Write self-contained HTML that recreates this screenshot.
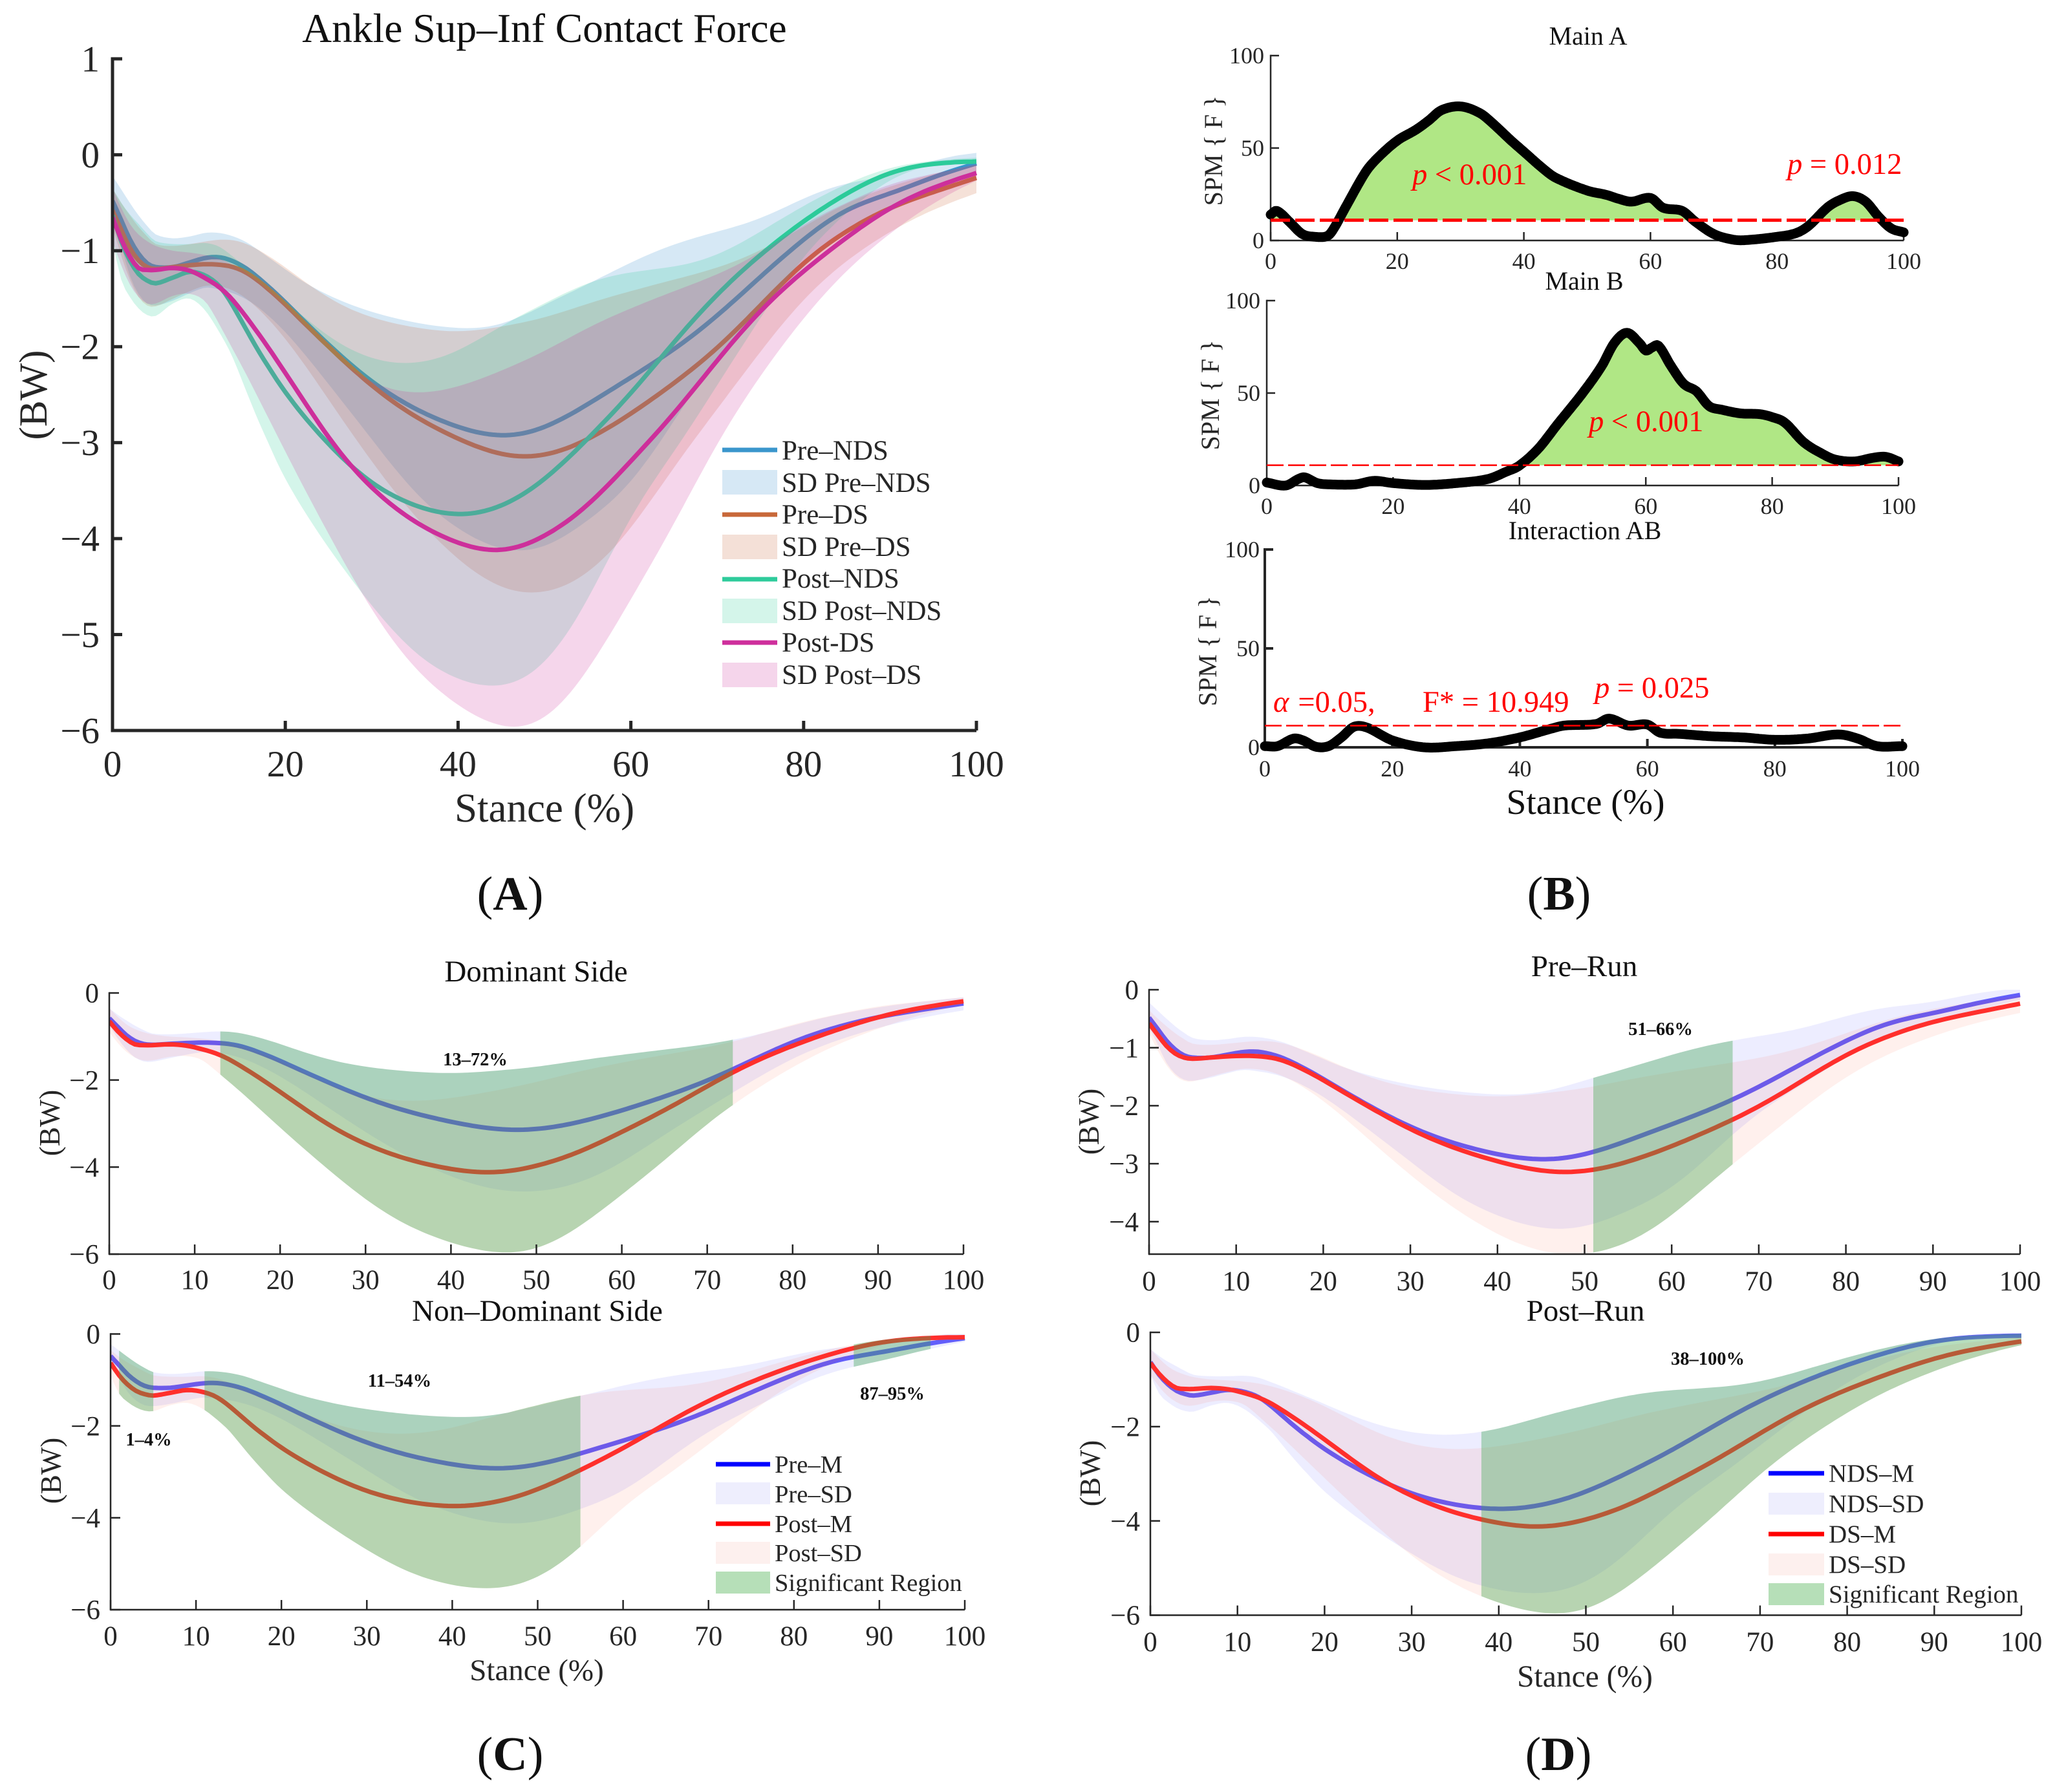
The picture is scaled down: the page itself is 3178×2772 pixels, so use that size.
<!DOCTYPE html>
<html lang="en">
<head>
<meta charset="utf-8">
<title>Ankle Sup–Inf Contact Force</title>
<style>
html,body{margin:0;padding:0;background:#fff;}
svg{display:block;}
text{font-family:"Liberation Serif","Times New Roman",serif;}
</style>
</head>
<body>
<svg id="fig" xmlns="http://www.w3.org/2000/svg" width="3178" height="2772" viewBox="0 0 3178 2772">
<rect x="0" y="0" width="3178" height="2772" fill="#fff"/>
<g id="plots"></g>

<!-- Panel A text -->
<text x="842" y="65" font-size="63.5" text-anchor="middle" fill="#111">Ankle Sup–Inf Contact Force</text>
<text x="842" y="1271" font-size="63" text-anchor="middle" fill="#262626">Stance (%)</text>
<text transform="translate(72,611) rotate(-90)" font-size="61" text-anchor="middle" fill="#262626">(BW)</text>
<text x="789" y="1407" font-size="74" text-anchor="middle" fill="#111">(<tspan font-weight="bold">A</tspan>)</text>

<g font-size="43" fill="#262626">
<line x1="1117" x2="1202" y1="696" y2="696" stroke="#3a96cc" stroke-width="7"/>
<text x="1209" y="711">Pre–NDS</text>
<rect x="1117" y="727" width="85" height="38" fill="#d6e8f5"/>
<text x="1209" y="761">SD Pre–NDS</text>
<line x1="1117" x2="1202" y1="796" y2="796" stroke="#c8683a" stroke-width="7"/>
<text x="1209" y="810">Pre–DS</text>
<rect x="1117" y="827" width="85" height="38" fill="#f4e0d7"/>
<text x="1209" y="860">SD Pre–DS</text>
<line x1="1117" x2="1202" y1="896" y2="896" stroke="#2ecb9b" stroke-width="7"/>
<text x="1209" y="909">Post–NDS</text>
<rect x="1117" y="926" width="85" height="38" fill="#d4f5ea"/>
<text x="1209" y="959">SD Post–NDS</text>
<line x1="1117" x2="1202" y1="994" y2="994" stroke="#ce2f9c" stroke-width="7"/>
<text x="1209" y="1008">Post-DS</text>
<rect x="1117" y="1025" width="85" height="38" fill="#f5d5eb"/>
<text x="1209" y="1058">SD Post–DS</text>
</g>

<!-- Panel B text -->
<text x="2456" y="69" font-size="40" text-anchor="middle" fill="#111">Main A</text>
<text x="2450" y="448" font-size="40" text-anchor="middle" fill="#111">Main B</text>
<text x="2451" y="834" font-size="40" text-anchor="middle" fill="#111">Interaction AB</text>
<text transform="translate(1890,233) rotate(-90)" font-size="40" text-anchor="middle" fill="#262626">SPM { F }</text>
<text transform="translate(1885,611) rotate(-90)" font-size="40" text-anchor="middle" fill="#262626">SPM { F }</text>
<text transform="translate(1881,1007) rotate(-90)" font-size="40" text-anchor="middle" fill="#262626">SPM { F }</text>
<text x="2452" y="1259" font-size="55.5" text-anchor="middle" fill="#111">Stance (%)</text>
<text x="2411" y="1407" font-size="74" text-anchor="middle" fill="#111">(<tspan font-weight="bold">B</tspan>)</text>
<g font-size="46.5" fill="#ff0000">
<text x="2184" y="285"><tspan font-style="italic">p</tspan> &lt; 0.001</text>
<text x="2764" y="269"><tspan font-style="italic">p</tspan> = 0.012</text>
<text x="2457" y="667"><tspan font-style="italic">p</tspan> &lt; 0.001</text>
<text x="1969" y="1101"><tspan font-style="italic">α</tspan><tspan dx="14">=0.05,</tspan></text>
<text x="2200" y="1101">F* = 10.949</text>
<text x="2466" y="1079"><tspan font-style="italic">p</tspan> = 0.025</text>
</g>

<!-- Panel C text -->
<text x="829" y="1518" font-size="47" text-anchor="middle" fill="#111">Dominant Side</text>
<text x="831" y="2043" font-size="47" text-anchor="middle" fill="#111">Non–Dominant Side</text>
<text transform="translate(92,1737) rotate(-90)" font-size="45" text-anchor="middle" fill="#262626">(BW)</text>
<text transform="translate(94,2275) rotate(-90)" font-size="45" text-anchor="middle" fill="#262626">(BW)</text>
<text x="830" y="2599" font-size="47" text-anchor="middle" fill="#262626">Stance (%)</text>
<text x="789" y="2738" font-size="74" text-anchor="middle" fill="#111">(<tspan font-weight="bold">C</tspan>)</text>
<g font-size="28.5" font-weight="bold" text-anchor="middle" fill="#111">
<text x="735" y="1648">13–72%</text>
<text x="230" y="2236">1–4%</text>
<text x="618" y="2145">11–54%</text>
<text x="1380" y="2165">87–95%</text>
</g>
<g font-size="38.5" fill="#262626">
<line x1="1107" x2="1191" y1="2265" y2="2265" stroke="#0000ff" stroke-width="7"/>
<text x="1198" y="2278">Pre–M</text>
<rect x="1107" y="2293" width="84" height="34" fill="#eeeefd"/>
<text x="1198" y="2324">Pre–SD</text>
<line x1="1107" x2="1191" y1="2357" y2="2357" stroke="#ff0000" stroke-width="7"/>
<text x="1198" y="2370">Post–M</text>
<rect x="1107" y="2385" width="84" height="34" fill="#fdf0ee"/>
<text x="1198" y="2415">Post–SD</text>
<rect x="1107" y="2431" width="84" height="34" fill="#b6dfb8"/>
<text x="1198" y="2461">Significant Region</text>
</g>

<!-- Panel D text -->
<text x="2450" y="1510" font-size="47" text-anchor="middle" fill="#111">Pre–Run</text>
<text x="2452" y="2043" font-size="47" text-anchor="middle" fill="#111">Post–Run</text>
<text transform="translate(1699,1735) rotate(-90)" font-size="45" text-anchor="middle" fill="#262626">(BW)</text>
<text transform="translate(1701,2279) rotate(-90)" font-size="45" text-anchor="middle" fill="#262626">(BW)</text>
<text x="2451" y="2609" font-size="47.5" text-anchor="middle" fill="#262626">Stance (%)</text>
<text x="2410" y="2738" font-size="74" text-anchor="middle" fill="#111">(<tspan font-weight="bold">D</tspan>)</text>
<g font-size="28.5" font-weight="bold" text-anchor="middle" fill="#111">
<text x="2568" y="1601">51–66%</text>
<text x="2641" y="2111">38–100%</text>
</g>
<g font-size="39" fill="#262626">
<line x1="2735" x2="2821" y1="2279" y2="2279" stroke="#0000ff" stroke-width="7"/>
<text x="2828" y="2292">NDS–M</text>
<rect x="2735" y="2309" width="86" height="34" fill="#eeeefd"/>
<text x="2828" y="2339">NDS–SD</text>
<line x1="2735" x2="2821" y1="2373" y2="2373" stroke="#ff0000" stroke-width="7"/>
<text x="2828" y="2386">DS–M</text>
<rect x="2735" y="2403" width="86" height="34" fill="#fdf0ee"/>
<text x="2828" y="2433">DS–SD</text>
<rect x="2735" y="2449" width="86" height="34" fill="#b6dfb8"/>
<text x="2828" y="2479">Significant Region</text>
</g>
</svg>

<script>
// ---------- Data ----------
const stance = [0,1,2,3,4,5,7,9,11,13,15,17,20,25,30,35,40,45,50,55,60,65,70,75,80,85,90,95,100];

const preNDS  = [-.48,-.68,-.88,-1.03,-1.13,-1.17,-1.17,-1.12,-1.07,-1.07,-1.15,-1.27,-1.54,-1.98,-2.37,-2.65,-2.84,-2.94,-2.85,-2.6,-2.32,-2.03,-1.68,-1.27,-.88,-.56,-.41,-.23,-.09];
const preDS   = [-.58,-.78,-.97,-1.1,-1.17,-1.19,-1.17,-1.15,-1.14,-1.15,-1.19,-1.3,-1.56,-2.0,-2.41,-2.73,-2.96,-3.13,-3.14,-2.97,-2.7,-2.38,-2.02,-1.57,-1.12,-.79,-.55,-.39,-.24];
const postNDS = [-.63,-.9,-1.1,-1.24,-1.31,-1.34,-1.28,-1.22,-1.27,-1.42,-1.74,-2.08,-2.49,-3.02,-3.43,-3.66,-3.76,-3.67,-3.39,-2.96,-2.49,-1.95,-1.45,-1.04,-.69,-.4,-.18,-.09,-.07];
const postDS  = [-.65,-.88,-1.06,-1.18,-1.2,-1.2,-1.18,-1.21,-1.3,-1.42,-1.62,-1.88,-2.26,-2.96,-3.48,-3.83,-4.05,-4.14,-3.98,-3.66,-3.19,-2.7,-2.14,-1.62,-1.21,-.86,-.55,-.34,-.19];

const preNDSUpper  = [-.22,-.36,-.5,-.63,-.74,-.83,-.87,-.85,-.81,-.82,-.88,-.98,-1.21,-1.47,-1.64,-1.75,-1.81,-1.78,-1.56,-1.35,-1.12,-.93,-.8,-.67,-.45,-.29,-.22,-.05,.02];
const preNDSLower  = [-.65,-.95,-1.26,-1.45,-1.55,-1.57,-1.52,-1.44,-1.38,-1.42,-1.47,-1.58,-1.83,-2.39,-2.96,-3.53,-3.9,-4.12,-4.1,-3.81,-3.43,-2.77,-2.11,-1.64,-1.16,-.79,-.6,-.36,-.17];
const preDSUpper   = [-.35,-.5,-.63,-.75,-.85,-.93,-.95,-.93,-.9,-.88,-.9,-.98,-1.17,-1.5,-1.7,-1.8,-1.85,-1.79,-1.7,-1.55,-1.42,-1.3,-1.18,-1.0,-.75,-.5,-.33,-.2,-.1];
const preDSLower   = [-.75,-1.05,-1.3,-1.48,-1.57,-1.58,-1.5,-1.42,-1.36,-1.38,-1.45,-1.6,-1.9,-2.55,-3.2,-3.77,-4.22,-4.52,-4.57,-4.37,-3.9,-3.25,-2.65,-2.05,-1.5,-1.1,-.8,-.57,-.4];
const postNDSUpper = [-.35,-.5,-.62,-.72,-.82,-.9,-.93,-.93,-.92,-.98,-1.15,-1.28,-1.52,-1.9,-2.13,-2.18,-2.05,-1.78,-1.55,-1.33,-1.22,-1.17,-1.05,-.8,-.53,-.3,-.13,-.06,-.03];
const postNDSLower = [-.9,-1.3,-1.48,-1.6,-1.67,-1.68,-1.55,-1.5,-1.65,-1.95,-2.3,-2.85,-3.4,-4.1,-4.7,-5.2,-5.47,-5.55,-5.32,-4.65,-3.75,-3.1,-2.4,-1.7,-1.05,-.6,-.25,-.1,-.07];
const postDSUpper  = [-.35,-.55,-.72,-.83,-.9,-.95,-1,-1.02,-1.05,-1.1,-1.2,-1.32,-1.55,-2.05,-2.38,-2.49,-2.42,-2.25,-2.05,-1.8,-1.6,-1.42,-1.25,-1.02,-.72,-.5,-.3,-.2,-.1];
const postDSLower  = [-.9,-1.15,-1.35,-1.48,-1.55,-1.55,-1.47,-1.45,-1.55,-1.88,-2.2,-2.55,-3.1,-3.95,-4.75,-5.36,-5.74,-5.97,-5.9,-5.38,-4.63,-3.85,-3.0,-2.3,-1.7,-1.2,-.82,-.5,-.27];

const mainAX = [0,1,3,5,7,9,10,12,15,17,20,23,25,27,30,33,35,38,40,43,45,50,53,55,57,60,62,65,67,70,73,75,80,83,85,88,90,92,94,96,98,100];
const mainAF = [14,16,10,3.5,2,2.5,6.6,19,37,45,54,60,65,70.5,72.5,69,63.6,54,48,39,34,27,24.7,22.5,21,23,17.7,16,10.4,3.5,.5,.2,2,4,8,18,22,24,21,13,6.6,4.4];
const mainBX = [0,3,5,6,8,10,14,17,20,25,30,35,38,40,43,46,50,53,55,57,59,60,61,62,64,66,68,70,72,75,78,80,82,85,88,90,93,96,98,100];
const mainBF = [1.6,0,3.5,4.4,1.3,.6,.6,2.5,1.3,.3,1.3,3.5,7.6,10.8,20,33,50,64.5,77,82.6,77,73,74.7,75.6,64.6,55,51,43,41,39,38.6,37,34,23.4,17,14,13,15,15.5,13];
const interactionX = [0,2,4.5,6,8,10,12,14,16,20,25,30,35,40,45,47,52,54,57,60,62,65,70,75,80,85,90,93,96,100];
const interactionF = [.6,.6,4.4,3.5,.3,.6,5,10.4,10,3.5,0,.6,2,5,9.5,11,11.8,14.5,11,11.5,7.4,6.8,5.6,5,3.8,4.4,6.5,4.4,.6,.6];
const thresholdF = 10.949;

const xTicksA = [0,20,40,60,80,100];
const yTicksA = [1,0,-1,-2,-3,-4,-5,-6];
const xTicksSpm = [0,20,40,60,80,100];
const yTicksSpm = [0,50,100];
const xTicksTen = [0,10,20,30,40,50,60,70,80,90,100];
const yTicksEven = [0,-2,-4,-6];
const yTicksUnit = [0,-1,-2,-3,-4];

const dominantRegions = [[13,73]];
const nonDominantRegions = [[1,5],[11,55],[87,96]];
const preRunRegions = [[51,67]];
const postRunRegions = [[38,100]];

// ---------- Helpers ----------
const NS = 'http://www.w3.org/2000/svg';
const root = document.getElementById('plots');

function make(tag, name, parent, props) {
  const el = document.createElementNS(NS, tag);
  
  
  for (const k in props) el.setAttribute(k, props[k]);
  parent.appendChild(el);
  return el;
}

function spline(xs, ys, x) {
  const n = xs.length;
  if (x <= xs[0]) return ys[0];
  if (x >= xs[n - 1]) return ys[n - 1];
  let i = 0;
  while (xs[i + 1] < x) i++;
  const h = xs[i + 1] - xs[i], t = (x - xs[i]) / h;
  const a = i > 0 ? i - 1 : i, b = i + 2 < n ? i + 2 : i + 1;
  const m0 = (ys[i + 1] - ys[a]) / (xs[i + 1] - xs[a]);
  const m1 = (ys[b] - ys[i]) / (xs[b] - xs[i]);
  const t2 = t * t, t3 = t2 * t;
  return (2 * t3 - 3 * t2 + 1) * ys[i] + (t3 - 2 * t2 + t) * h * m0 + (-2 * t3 + 3 * t2) * ys[i + 1] + (t3 - t2) * h * m1;
}

function sampleGrid(a, b, step) {
  const out = [];
  for (let x = a; x < b; x += step) out.push(x);
  out.push(b);
  return out;
}

function axes(p) {
  return {
    sx: v => p.left + v / 100 * (p.right - p.left),
    sy: v => p.top + (v - p.vTop) / (p.vBot - p.vTop) * (p.bottom - p.top)
  };
}

function linePath(xs, fn, ax) {
  return xs.map((x, i) => (i ? 'L' : 'M') + ax.sx(x).toFixed(1) + ' ' + ax.sy(fn(x)).toFixed(1)).join('');
}

function bandPath(xs, upper, lower, ax) {
  const top = xs.map(x => ax.sx(x).toFixed(1) + ' ' + ax.sy(upper(x)).toFixed(1));
  const bot = xs.slice().reverse().map(x => ax.sx(x).toFixed(1) + ' ' + ax.sy(lower(x)).toFixed(1));
  return 'M' + top.join('L') + 'L' + bot.join('L') + 'Z';
}

// Spline through the read values, lightly eased past the initial transient.
function curve(arr) {
  return x => {
    const w = Math.min(3, Math.max(0, (x - 9) / 3)) * Math.min(1, (100 - x) / 3);
    if (w <= 0) return spline(stance, arr, x);
    let s = 0;
    for (let k = -3; k <= 3; k++) s += spline(stance, arr, x + k * w / 3);
    return s / 7;
  };
}

function drawFrame(p, ax, g) {
  const w = p.axisWidth;
  make('line', p.id + '-y-axis', g, {x1: p.left, x2: p.left, y1: p.top - w / 2, y2: p.bottom + w / 2, stroke: '#262626', 'stroke-width': p.yWidth || w});
  make('line', p.id + '-x-axis', g, {x1: p.left, x2: p.right, y1: p.bottom, y2: p.bottom, stroke: '#262626', 'stroke-width': w});
  p.xTicks.forEach(v => {
    make('line', p.id + '-x-tick', g, {x1: ax.sx(v), x2: ax.sx(v), y1: p.bottom, y2: p.bottom - p.tickLen, stroke: '#262626', 'stroke-width': w});
    const t = make('text', p.id + '-x-tick-label', g, {x: ax.sx(v), y: p.xLabelY, 'font-size': p.tickFont, 'text-anchor': 'middle', fill: '#262626'});
    t.textContent = String(v);
  });
  p.yTicks.forEach(v => {
    make('line', p.id + '-y-tick', g, {x1: p.left, x2: p.left + p.tickLen, y1: ax.sy(v), y2: ax.sy(v), stroke: '#262626', 'stroke-width': w});
    const t = make('text', p.id + '-y-tick-label', g, {x: p.left - p.yLabelGap, y: ax.sy(v) + p.tickFont * 0.34, 'font-size': p.tickFont, 'text-anchor': 'end', fill: '#262626'});
    t.textContent = String(v).replace('-', '\u2212');
  });
}

function clipFor(p, g) {
  const c = make('clipPath', p.id + '-clip', g, {id: p.id + '-clip'});
  make('rect', p.id + '-clip-rect', c, {x: p.left, y: p.top, width: p.right - p.left + 1, height: p.bottom - p.top});
}

// ---------- Panel A ----------
(function () {
  const p = {id: 'panel-a', left: 174, right: 1510, top: 91, bottom: 1130, vTop: 1, vBot: -6, axisWidth: 5, tickLen: 15, tickFont: 57, xLabelY: 1201, yLabelGap: 20, xTicks: xTicksA, yTicks: yTicksA};
  const ax = axes(p);
  const g = make('g', 'panel-a-plot', root, {});
  clipFor(p, g);
  const plot = make('g', 'panel-a-series', g, {'clip-path': 'url(#panel-a-clip)'});
  const grid = sampleGrid(0, 100, 0.5);
  const series = [
    ['pre-nds', preNDS, preNDSUpper, preNDSLower, 'rgb(58,150,204)', 'rgb(50,140,205)'],
    ['pre-ds', preDS, preDSUpper, preDSLower, 'rgb(200,104,58)', 'rgb(205,105,60)'],
    ['post-nds', postNDS, postNDSUpper, postNDSLower, 'rgb(46,203,155)', 'rgb(40,205,150)'],
    ['post-ds', postDS, postDSUpper, postDSLower, 'rgb(206,47,156)', 'rgb(205,50,155)']
  ];
  series.forEach(s => {
    make('path', 'line-' + s[0], plot, {d: linePath(grid, curve(s[1]), ax), fill: 'none', stroke: s[4], 'stroke-width': 7, 'stroke-linejoin': 'round'});
    make('path', 'band-' + s[0], plot, {d: bandPath(grid, curve(s[2]), curve(s[3]), ax), fill: s[5], 'fill-opacity': 0.2});
  });
  drawFrame(p, ax, g);
})();

// ---------- Panel B ----------
function spmPanel(p, xs, fs, fillRegions, dashW, dash) {
  const ax = axes(p);
  const g = make('g', p.id + '-plot', root, {});
  const fn = x => spline(xs, fs, x);
  const grid = sampleGrid(0, 100, 0.25);
  if (fillRegions) {
    let run = [];
    const flush = () => {
      if (run.length > 1) {
        const d = bandPath(run, fn, () => thresholdF, ax);
        make('path', p.id + '-significant-fill', g, {d: d, fill: '#b0e785'});
      }
      run = [];
    };
    grid.forEach(x => { if (fn(x) >= thresholdF) run.push(x); else flush(); });
    flush();
  }
  drawFrame(p, ax, g);
  make('path', p.id + '-spm-curve', g, {d: linePath(grid, fn, ax), fill: 'none', stroke: '#000', 'stroke-width': 15, 'stroke-linejoin': 'round', 'stroke-linecap': 'round'});
  make('line', p.id + '-threshold', g, {x1: ax.sx(0), x2: ax.sx(100), y1: ax.sy(thresholdF), y2: ax.sy(thresholdF), stroke: '#ff0000', 'stroke-width': dashW, 'stroke-dasharray': dash});
}
spmPanel({id: 'main-a', left: 1965, right: 2944, top: 86, bottom: 372, vTop: 100, vBot: 0, axisWidth: 2.5, tickLen: 13, tickFont: 36, xLabelY: 416, yLabelGap: 10, xTicks: xTicksSpm, yTicks: yTicksSpm}, mainAX, mainAF, true, 5, '30 8');
spmPanel({id: 'main-b', left: 1959, right: 2936, top: 465, bottom: 751, vTop: 100, vBot: 0, axisWidth: 2.5, tickLen: 13, tickFont: 36, xLabelY: 795, yLabelGap: 10, xTicks: xTicksSpm, yTicks: yTicksSpm}, mainBX, mainBF, true, 2.5, '26 7');
spmPanel({id: 'interaction', left: 1956, right: 2942, top: 850, bottom: 1156, vTop: 100, vBot: 0, axisWidth: 4, tickLen: 13, tickFont: 36, xLabelY: 1201, yLabelGap: 8, xTicks: xTicksSpm, yTicks: yTicksSpm}, interactionX, interactionF, false, 2.5, '26 7');

// ---------- Panels C and D ----------
function comparePanel(p, m1, u1, l1, m2, u2, l2, regions) {
  const ax = axes(p);
  const g = make('g', p.id + '-plot', root, {});
  clipFor(p, g);
  const plot = make('g', p.id + '-series', g, {'clip-path': 'url(#' + p.id + '-clip)'});
  const grid = sampleGrid(0, 100, 0.5);
  const fu1 = curve(u1), fl1 = curve(l1), fu2 = curve(u2), fl2 = curve(l2);
  make('path', p.id + '-line-blue', plot, {d: linePath(grid, curve(m1), ax), fill: 'none', stroke: '#6a66fb', 'stroke-width': 7, 'stroke-linejoin': 'round'});
  make('path', p.id + '-band-blue', plot, {d: bandPath(grid, fu1, fl1, ax), fill: '#0000ff', 'fill-opacity': 0.07});
  make('path', p.id + '-line-red', plot, {d: linePath(grid, curve(m2), ax), fill: 'none', stroke: '#ff3030', 'stroke-width': 7, 'stroke-linejoin': 'round'});
  make('path', p.id + '-band-red', plot, {d: bandPath(grid, fu2, fl2, ax), fill: '#ff2a00', 'fill-opacity': 0.07});
  regions.forEach(r => {
    const xs = sampleGrid(r[0], r[1], 0.5);
    const up = x => Math.max(fu1(x), fu2(x));
    const lo = x => Math.min(fl1(x), fl2(x));
    make('path', p.id + '-significant-region', plot, {d: bandPath(xs, up, lo, ax), fill: 'rgb(60,165,75)', 'fill-opacity': 0.37});
  });
  drawFrame(p, ax, g);
}
const thin = {axisWidth: 2.5, tickLen: 15, tickFont: 43};
comparePanel(Object.assign({id: 'dominant', left: 169, right: 1490, top: 1536, bottom: 1940, vTop: 0, vBot: -6, xLabelY: 1994, yLabelGap: 16, xTicks: xTicksTen, yTicks: yTicksEven}, thin), preDS, preDSUpper, preDSLower, postDS, postDSUpper, postDSLower, dominantRegions);
comparePanel(Object.assign({id: 'non-dominant', left: 171, right: 1492, top: 2063.5, bottom: 2490, vTop: 0, vBot: -6, xLabelY: 2545, yLabelGap: 16, xTicks: xTicksTen, yTicks: yTicksEven}, thin), preNDS, preNDSUpper, preNDSLower, postNDS, postNDSUpper, postNDSLower, nonDominantRegions);
comparePanel(Object.assign({id: 'pre-run', left: 1777, right: 3124, top: 1531, bottom: 1940, vTop: 0, vBot: -4.56, xLabelY: 1996, yLabelGap: 16, xTicks: xTicksTen, yTicks: yTicksUnit}, thin), preNDS, preNDSUpper, preNDSLower, preDS, preDSUpper, preDSLower, preRunRegions);
comparePanel(Object.assign({id: 'post-run', left: 1779, right: 3126, top: 2061, bottom: 2498.5, vTop: 0, vBot: -6, xLabelY: 2554, yLabelGap: 16, xTicks: xTicksTen, yTicks: yTicksEven}, thin), postNDS, postNDSUpper, postNDSLower, postDS, postDSUpper, postDSLower, postRunRegions);
</script>
</body>
</html>
